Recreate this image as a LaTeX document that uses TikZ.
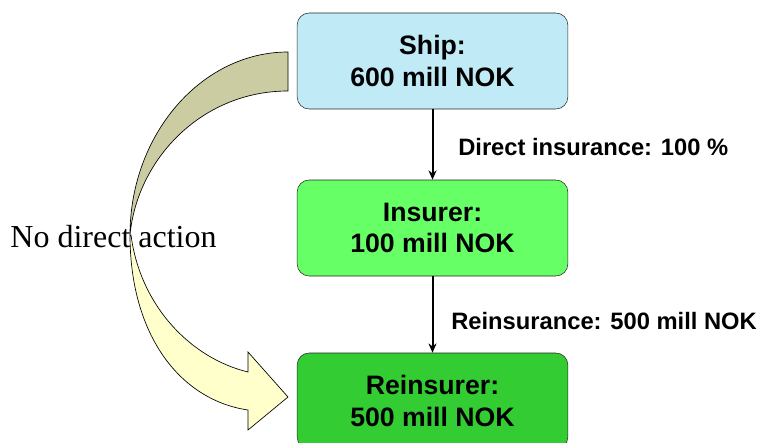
\documentclass[tikz,border=0pt]{standalone}
\usepackage{fontspec}
\setmainfont{Liberation Serif}
\newfontfamily\arialfont{Liberation Sans}
\usetikzlibrary{arrows.meta}
\definecolor{shipblue}{HTML}{C0EAF6}
\definecolor{insgreen}{HTML}{66FF66}
\definecolor{reinsgreen}{HTML}{33CC33}
\definecolor{twistdark}{HTML}{CCCCA3}
\definecolor{twistlight}{HTML}{FFFFCC}

\begin{document}
\begin{tikzpicture}[x=0.75pt,y=-0.75pt,
  box/.style={draw=black!85, rounded corners=9pt, minimum width=203pt,
    minimum height=72pt, inner sep=0pt, align=center,
    font=\arialfont\bfseries\fontsize{20}{23.5}\selectfont},
  lbl/.style={anchor=west, inner sep=0pt, font=\arialfont\bfseries\fontsize{17.8}{22}\selectfont},
  flow/.style={-{Stealth[length=7pt,width=6pt]}, line width=1.5pt}]
  \path[use as bounding box, clip] (0,0) rectangle (762,442);

  % boxes
  \node[box, fill=shipblue] (ship) at (432.5,61) {Ship:\\600 mill NOK};
  \node[box, fill=insgreen] (insurer) at (432.5,228) {Insurer:\\100 mill NOK};
  \node[box, fill=reinsgreen] (reinsurer) at (432.5,401) {Reinsurer:\\500 mill NOK};

  \draw[flow] (ship) -- (insurer);
  \draw[flow] (insurer) -- (reinsurer);
  \node[lbl] (directlbl) at (458,147) {Direct insurance: 100 \%};
  \node[lbl] (reinslbl) at (451,321) {Reinsurance: 500 mill NOK};

  % twisted curved arrow
  \filldraw[fill=twistlight, draw=black, line width=0.5pt]
    (130,235) .. controls (130,335) and (180,400) .. (248,410)
    -- (248,430) -- (288,397) -- (248,352) -- (248,372)
    .. controls (190,358) and (140,305) .. (131,235) -- cycle;
  \filldraw[fill=twistdark, draw=black, line width=0.5pt]
    (288,52) .. controls (201,52) and (130,135) .. (130,235)
    .. controls (137,160) and (201,91) .. (288,91) -- cycle;

  \node[font=\fontsize{24}{28}\selectfont, inner sep=0pt] (nodirect) at (113.5,237) {No direct action};
\end{tikzpicture}
\end{document}
